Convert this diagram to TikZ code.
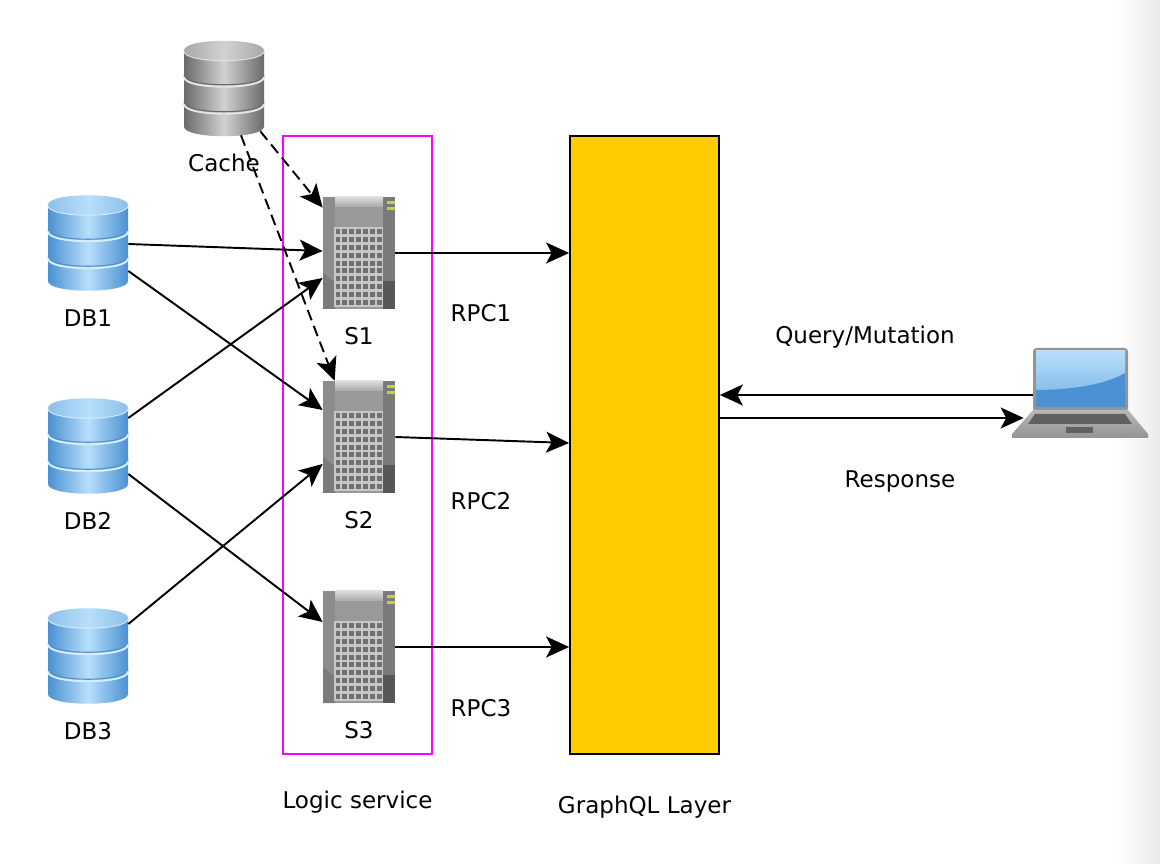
\documentclass[tikz,border=0pt]{standalone}
\usepackage{fontspec}
\setmainfont{DejaVu Sans}
\usetikzlibrary{arrows.meta, calc, positioning}

\definecolor{dbdark}{HTML}{4A90D2}
\definecolor{dblight}{HTML}{B8DFFB}
\definecolor{dblip}{HTML}{D8EEFC}
\definecolor{cachedark}{HTML}{6A6A6A}
\definecolor{cachelight}{HTML}{D2D2D2}
\definecolor{cachelip}{HTML}{E4E4E4}
\definecolor{gqlyellow}{HTML}{FFCC00}
\definecolor{yellowgreen}{HTML}{C4D23C}
\definecolor{logicpink}{HTML}{FF00FF}

\tikzset{
  pics/stack/.style n args={3}{code={
    % three discs, from the bottom one up
    \foreach \t/\b in {13.5/38,-13.5/13.5,-38/-13.5}{
      \path[left color=#1,right color=#1,middle color=#2]
        (-40,\t) -- (-40,\b) .. controls (-40,\b+13) and (40,\b+13) .. (40,\b) -- (40,\t) -- cycle;
    }
    \foreach \b in {-13.5,13.5}{
      \draw[#1,line width=0.6pt] (-40,\b) .. controls (-40,\b+13) and (40,\b+13) .. (40,\b);
      \draw[#3,line width=1.1pt] (-40,\b+2) .. controls (-40,\b+15) and (40,\b+15) .. (40,\b+2);
    }
    \draw[#3,line width=1.1pt] (-40,-38) .. controls (-40,-25) and (40,-25) .. (40,-38);
    \path[left color=#2!60!#1,right color=#2!60!#1,middle color=#2] (-40,-38) .. controls (-40,-51) and (40,-51) .. (40,-38)
      .. controls (40,-25) and (-40,-25) .. (-40,-38) -- cycle;
  }},
  pics/server/.style={code={
    \path[fill=black!40] (-36,-56) rectangle (36,56);
    \path[top color=black!14,bottom color=black!34] (-24,-56) rectangle (24,-46);
    \path[fill=black!45] (-36,-56) rectangle (-24,56);
    \path[fill=black!52] (24,-56) rectangle (36,56);
    \path[fill=black!66] (24,28) rectangle (36,56);
    \path[fill=black!52] (-36,20) -- (-24,30) -- (-24,56) -- (-36,56) -- cycle;
    \path[fill=black!22] (-25,-26) rectangle (24,54);
    \foreach \c in {0,...,6}{
      \foreach \r in {0,...,9}{
        \path[fill=black!56] ({-23.5+6.9*\c},{-24+7.9*\r}) rectangle ++(4.6,5);
      }
    }
    \path[fill=yellowgreen] (28,-52) rectangle (36,-49);
    \path[fill=yellowgreen] (28,-46) rectangle (36,-43);
  }},
  pics/laptop/.style={code={
    \path[fill=black!42,rounded corners=2pt] (-47,-46) rectangle (48,18);
    \path[top color=dblight,bottom color=dbdark!60!dblight] (-44,-43) rectangle (45,13);
    \path[fill=dbdark] (-44,13) -- (-44,-4) .. controls (-10,-4) and (25,-9) .. (45,-21) -- (45,13) -- cycle;
    \path[top color=black!28,bottom color=black!42] (-47,16) -- (48,16) -- (68,40) -- (68,44) -- (-68,44) -- (-68,40) -- cycle;
    \path[fill=black!62] (-45,20) -- (45,20) -- (52,30) -- (-52,30) -- cycle;
    \path[fill=black!62] (-14,33) rectangle (13,39);
  }}
}

\begin{document}
\begin{tikzpicture}[x=0.02cm,y=-0.02cm,node distance=0.36cm]

\tikzstyle{caption}=[inner sep=0pt,text height=9.6pt,text depth=0pt,font=\fontsize{13.1}{15}\selectfont];
\tikzstyle{dbicon}=[inner sep=0pt,minimum width=1.6cm,minimum height=1.9cm];
\tikzstyle{srvicon}=[inner sep=0pt,minimum width=1.44cm,minimum height=2.24cm];
\tikzstyle{flow}=[line width=1.1pt,-{Stealth[length=0.46cm,width=0.42cm,inset=0.11cm]}];
\tikzstyle{cacheflow}=[flow,dash pattern=on 0.22cm off 0.12cm];

\useasboundingbox (0,0) rectangle (1160,864);
\path[left color=white,right color=black!8] (1115,0) rectangle (1160,864);

\node(LOGIC) [draw=logicpink,line width=1pt,inner sep=0pt,minimum width=2.98cm,minimum height=12.36cm] at (357.5,445) {};
\node [caption, below=0.72cm of LOGIC] {Logic service};
\node(GRAPHQL) [draw,fill=gqlyellow,line width=1pt,inner sep=0pt,minimum width=2.98cm,minimum height=12.36cm] at (644.5,445) {};
\node [caption, below=0.82cm of GRAPHQL] {GraphQL Layer};

\node(CACHE) [dbicon] at (224,88.5) {};
\pic at (CACHE) {stack={cachedark}{cachelight}{cachelip}};
\node [caption, below= of CACHE] {Cache};
\node(DB1) [dbicon] at (88,243) {};
\pic at (DB1) {stack={dbdark}{dblight}{dblip}};
\node [caption, below= of DB1] {DB1};
\node(DB2) [dbicon] at (88,446) {};
\pic at (DB2) {stack={dbdark}{dblight}{dblip}};
\node [caption, below= of DB2] {DB2};
\node(DB3) [dbicon] at (88,656) {};
\pic at (DB3) {stack={dbdark}{dblight}{dblip}};
\node [caption, below= of DB3] {DB3};

\node(S1) [srvicon] at (359,253) {};
\pic at (S1) {server};
\node [caption, below= of S1] {S1};
\node(S2) [srvicon] at (359,437) {};
\pic at (S2) {server};
\node [caption, below= of S2] {S2};
\node(S3) [srvicon] at (359,647) {};
\pic at (S3) {server};
\node [caption, below= of S3] {S3};

\node(LAPTOP) [inner sep=0pt,minimum width=2.72cm,minimum height=1.84cm] at (1080,394) {};
\pic at (LAPTOP) {laptop};

\node(RPC1) [caption] at (481,313) {RPC1};
\node(RPC2) [caption] at (481,501) {RPC2};
\node(RPC3) [caption] at (481,708) {RPC3};
\node(QUERY) [caption] at (865,335) {Query/Mutation};
\node(RESPONSE) [caption] at (900,479) {Response};

\draw [flow] ($(DB1.east)+(0,1)$) -- ($(S1.west)+(0,-2)$);
\draw [flow] ($(DB1.east)+(0,28)$) -- ($(S2.west)+(0,-27)$);
\draw [flow] ($(DB2.east)+(0,-28)$) -- ($(S1.west)+(0,25)$);
\draw [flow] ($(DB2.east)+(0,28)$) -- ($(S3.west)+(0,-25)$);
\draw [flow] ($(DB3.east)+(0,-32)$) -- ($(S2.west)+(0,27)$);
\draw [cacheflow] ($(CACHE.south east)+(-4,-5)$) -- ($(S1.north west)+(0,11)$);
\draw [cacheflow] ($(CACHE.south)+(17,-1)$) -- ($(S2.north west)+(12,0)$);

\draw [flow] (S1.east) -- ($(GRAPHQL.west)+(0,-192)$);
\draw [flow] (S2.east) -- ($(GRAPHQL.west)+(0,-2)$);
\draw [flow] (S3.east) -- ($(GRAPHQL.west)+(0,202)$);
\draw [flow] ($(LAPTOP.west)+(21,1)$) -- ($(GRAPHQL.east)+(0,-50)$);
\draw [flow] ($(GRAPHQL.east)+(0,-27)$) -- ($(LAPTOP.west)+(12,24)$);

\end{tikzpicture}
\end{document}
